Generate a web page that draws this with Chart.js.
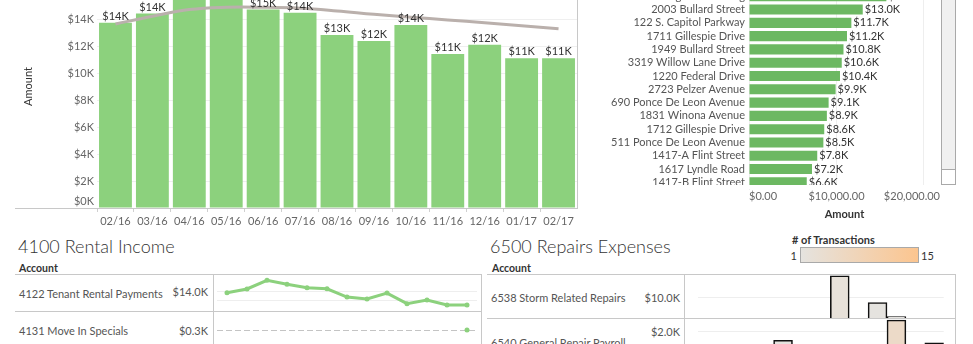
<!DOCTYPE html>
<html><head><meta charset="utf-8">
<script src="https://cdn.jsdelivr.net/npm/chart.js@4.4.1/dist/chart.umd.min.js"></script>
<style>
html,body{margin:0;padding:0;background:#fff;}
body{position:relative;width:973px;height:344px;overflow:hidden;font-family:Lato,'Noto Sans',sans-serif;}
canvas{position:absolute;display:block;}
.t{position:absolute;white-space:nowrap;font-size:11px;line-height:13px;color:#555;}
.hl{position:absolute;height:1px;background:#c8c8c8;}
.vl{position:absolute;width:1px;background:#c8c8c8;}
.ttl{position:absolute;white-space:nowrap;font-size:18px;line-height:20px;color:#333;font-weight:300;}
.hdr{position:absolute;white-space:nowrap;font-size:10.5px;line-height:12px;font-weight:bold;color:#333;}
</style></head><body>

<!-- top-left frame bits -->
<div class="vl" style="left:577px;top:0;height:209px"></div>
<div class="hl" style="left:15px;top:208px;width:82px"></div>
<canvas id="cA" width="577" height="265" style="left:0;top:-35px"></canvas>

<canvas id="cB" width="350" height="243" style="left:590px;top:-17px"></canvas>
<div style="position:absolute;left:590px;top:184.5px;width:351px;height:4.5px;background:#fff"></div>
<div style="position:absolute;left:941px;top:-2px;width:13px;height:185px;border:1px solid #a9a9a9;background:#f0f0f0"></div>
<div style="position:absolute;left:942px;top:169px;width:13px;height:14px;border-top:1px solid #a9a9a9;background:#fff"></div>

<!-- bottom-left table -->
<div class="ttl" style="left:18px;top:236px">4100 Rental Income</div>
<div class="hdr" style="left:19px;top:262px">Account</div>
<div class="hl" style="left:15px;top:274px;width:467px"></div>
<div class="hl" style="left:15px;top:311px;width:467px"></div>
<div class="vl" style="left:213px;top:274px;height:70px"></div>
<div class="vl" style="left:481px;top:274px;height:70px"></div>
<div class="t" style="left:19px;top:286.5px">4122 Tenant Rental Payments</div>
<div class="t" style="right:765px;top:284.5px">$14.0K</div>
<div class="t" style="left:19px;top:323.5px">4131 Move In Specials</div>
<div class="t" style="right:765px;top:323.5px">$0.3K</div>
<canvas id="cC" width="268" height="37" style="left:213px;top:274px"></canvas>
<canvas id="cD" width="268" height="38" style="left:213px;top:311px"></canvas>

<!-- bottom-right table -->
<div class="ttl" style="left:490px;top:236px">6500 Repairs Expenses</div>
<div class="hdr" style="left:492px;top:262px">Account</div>
<div class="hdr" style="left:792px;top:234px;font-size:11px"># of Transactions</div>
<div style="position:absolute;left:800px;top:247px;width:117px;height:14px;border:1px solid #a9a9a9;background:linear-gradient(to right,#e5e3df,#fcc58f)"></div>
<div class="t" style="right:176px;top:248.5px;color:#333">1</div>
<div class="t" style="left:921px;top:248.5px;color:#333">15</div>
<div class="hl" style="left:487px;top:274px;width:469px"></div>
<div class="hl" style="left:487px;top:318px;width:469px"></div>
<div class="vl" style="left:684px;top:274px;height:70px"></div>
<div class="vl" style="left:955px;top:274px;height:70px"></div>
<div class="t" style="left:491px;top:290.5px">6538 Storm Related Repairs</div>
<div class="t" style="right:293px;top:290.5px">$10.0K</div>
<div class="t" style="right:293px;top:324.5px">$2.0K</div>
<div class="t" style="left:491px;top:335.5px">6540 General Repair Payroll</div>
<canvas id="cE" width="271" height="44" style="left:684px;top:274px"></canvas>
<canvas id="cF" width="271" height="44" style="left:684px;top:318px"></canvas>

<script>
// ---------- data ----------
const months = ['02/16','03/16','04/16','05/16','06/16','07/16','08/16','09/16','10/16','11/16','12/16','01/17','02/17'];
const monthlyAmount = [13730,14400,16350,15500,14700,14470,12820,12370,13550,11400,12100,11100,11100];
const trendAmount = [13630,14200,14700,14870,14870,14800,14600,14350,14130,13930,13730,13500,13280];
const incomeTicks = [0,2000,4000,6000,8000,10000,12000,14000,16000,18000];

const properties = ['1300 Magnolia Landing','2003 Bullard Street','122 S. Capitol Parkway','1711 Gillespie Drive','1949 Bullard Street','3319 Willow Lane Drive','1220 Federal Drive','2723 Pelzer Avenue','690 Ponce De Leon Avenue','1831 Winona Avenue','1712 Gillespie Drive','511 Ponce De Leon Avenue','1417-A Flint Street','1617 Lyndle Road','1417-B Flint Street'];
const propertyAmount = [15700,13000,11700,11200,10800,10600,10400,9900,9100,8900,8600,8500,7800,7200,6600];
const amountTicks = [0,10000,20000];

const tenantRentalPayments = [13730,14520,16380,15530,14810,14570,12790,12380,13630,11370,12160,11100,11100];
const moveInSpecials = [null,null,null,null,null,null,null,null,null,null,null,null,300];

const stormRepairs = [null,null,null,null,null,null,null,20400,null,7500,700,null,null];
const stormTransactions = [0,0,0,0,0,0,0,2,0,1,1,0,0];
const repairPayroll = [null,null,null,null,1400,null,null,null,null,null,2710,null,1230];
const payrollTransactions = [0,0,0,0,1,0,0,0,0,0,5,0,1];

// ---------- helpers ----------
const FAM = "Lato, 'Noto Sans', sans-serif";
Chart.defaults.font.family = FAM;
Chart.defaults.font.size = 11;
Chart.defaults.animation = false;
Chart.defaults.responsive = false;
Chart.defaults.devicePixelRatio = 1;
Chart.defaults.plugins.legend.display = false;
Chart.defaults.plugins.tooltip.enabled = false;

function txColor(n){
  const a=[229,227,223], b=[252,197,143];
  const t=Math.max(0,Math.min(1,(n-1)/14));
  return 'rgb('+a.map((c,i)=>Math.round(c+(b[i]-c)*t)).join(',')+')';
}
const kfmt = v => '$'+Math.round(v/1000)+'K';
const k1fmt = v => '$'+(v/1000).toFixed(1)+'K';
const money = v => '$'+v.toLocaleString('en-US',{minimumFractionDigits:2,maximumFractionDigits:2});

// ---------- Chart A: monthly amount ----------
const pluginA = {
  id:'pA',
  afterDatasetsDraw(chart){
    const ctx=chart.ctx, ca=chart.chartArea, ys=chart.scales.y;
    ctx.save();
    ctx.font='11px '+FAM;
    ctx.fillStyle='#666'; ctx.textAlign='right'; ctx.textBaseline='middle';
    incomeTicks.forEach(v=>{
      let y=ys.getPixelForValue(v);
      y=Math.min(y, ca.bottom-6.6);
      ctx.fillText(kfmt(v), ca.left-3, y);
    });
    ctx.fillStyle='#333'; ctx.textAlign='center'; ctx.textBaseline='alphabetic';
    const meta=chart.getDatasetMeta(1);
    meta.data.forEach((el,i)=>{ ctx.fillText(kfmt(monthlyAmount[i]), el.x, el.y-3); });
    ctx.restore();
  }
};
new Chart(document.getElementById('cA'),{
  data:{labels:months,datasets:[
    {type:'line',data:trendAmount,borderColor:'#bab0ac',borderWidth:3,pointRadius:0,tension:0.4,order:0},
    {type:'bar',data:monthlyAmount,backgroundColor:'#8cd17d',barPercentage:0.89,categoryPercentage:1,order:1}
  ]},
  options:{
    layout:{padding:0},
    scales:{
      x:{grid:{drawOnChartArea:false,drawTicks:true,tickLength:4,color:'#d0d0d0',offset:true},
         border:{color:'#c8c8c8'},
         ticks:{color:'#666',padding:3,maxRotation:0,autoSkip:false},
         afterFit(s){s.height=22;}},
      y:{min:0,max:18000,ticks:{display:false,stepSize:2000},
         grid:{color:'#efefef',drawTicks:false},border:{display:false},
         title:{display:true,text:'Amount',color:'#333',font:{size:11},padding:{top:21.4,bottom:0}},
         afterFit(s){s.width=97;}}
    }
  },
  plugins:[pluginA]
});

// ---------- Chart B: amount by property ----------
const pluginB = {
  id:'pB',
  afterDatasetsDraw(chart){
    const ctx=chart.ctx, ca=chart.chartArea, xs=chart.scales.x;
    ctx.save();
    ctx.font='11px '+FAM;
    ctx.fillStyle='#333'; ctx.textAlign='left'; ctx.textBaseline='middle';
    chart.getDatasetMeta(0).data.forEach((el,i)=>{ ctx.fillText(k1fmt(propertyAmount[i]), el.x+2, el.y); });
    ctx.fillStyle='#666';
    amountTicks.forEach(v=>{
      const s=money(v), w=ctx.measureText(s).width;
      let x=xs.getPixelForValue(v)-w/2;
      x=Math.max(ca.left, Math.min(ca.right-w, x));
      ctx.fillText(s, x, ca.bottom+7.4);
    });
    ctx.restore();
  }
};
const cbEl = document.getElementById('cB');
function makeB(){
  return new Chart(cbEl,{
    type:'bar',
    data:{labels:properties,datasets:[{data:propertyAmount,backgroundColor:'#6cb862',barPercentage:0.76,categoryPercentage:1}]},
    options:{
      indexAxis:'y',
      layout:{padding:0},
      scales:{
        x:{min:0,max:21830,ticks:{display:false},afterBuildTicks(s){s.ticks=amountTicks.map(v=>({value:v}));},
           grid:{color:'#eeeeee',drawTicks:false},border:{display:false},
           title:{display:true,text:'Amount',color:'#333',font:{size:11,weight:'bold'},padding:{top:0,bottom:5}},
           afterFit(s){s.height=37;}},
        y:{ticks:{color:'#555',padding:4,autoSkip:false},grid:{display:false,drawTicks:false},
           border:{color:'#eeeeee'},afterFit(s){s.width=159;}}
      }
    },
    plugins:[pluginB]
  });
}
let chartB = makeB();
{
  const ca = chartB.chartArea;
  const extra = cbEl.height - (ca.bottom - ca.top);
  chartB.destroy();
  cbEl.width = 350; cbEl.height = Math.round(extra + 199.2);
  cbEl.style.width = ''; cbEl.style.height = '';
  chartB = makeB();
  cbEl.style.top = (-10.6 - chartB.chartArea.top) + 'px';
}

// ---------- Chart C: 4122 sparkline ----------
new Chart(document.getElementById('cC'),{
  type:'line',
  data:{labels:months,datasets:[{data:tenantRentalPayments,borderColor:'#8cd17d',borderWidth:3,pointRadius:2.5,pointBackgroundColor:'#8cd17d',pointBorderWidth:0,tension:0,clip:false}]},
  options:{
    layout:{padding:{left:3.6,right:2.2,top:0,bottom:0}},
    scales:{
      x:{display:false,offset:true},
      y:{min:10644,max:16884,ticks:{display:false},afterBuildTicks(s){s.ticks=[{value:12000},{value:14000}];},
         grid:{color:'#eeeeee',drawTicks:false},border:{display:false}}
    }
  }
});

// ---------- Chart D: 4131 ----------
new Chart(document.getElementById('cD'),{
  type:'line',
  data:{labels:months,datasets:[{data:moveInSpecials,showLine:false,pointRadius:2.5,pointBackgroundColor:'#8cd17d',pointBorderWidth:0,clip:false}]},
  options:{
    layout:{padding:{left:3.6,right:2.2,top:0,bottom:0}},
    scales:{
      x:{display:false,offset:true},
      y:{min:0,max:600,ticks:{display:false},afterBuildTicks(s){s.ticks=[{value:300}];},
         grid:{color:'#c4c4c4',drawTicks:false},border:{display:false,dash:[6,3]}}
    }
  }
});

// ---------- Charts E/F: repairs ----------
function repairChart(id, values, tx, max, grid){
  return new Chart(document.getElementById(id),{
    type:'bar',
    data:{labels:months,datasets:[{data:values,backgroundColor:tx.map(txColor),borderColor:'#111',borderWidth:1.6,borderSkipped:'bottom',barPercentage:1,categoryPercentage:1}]},
    options:{
      layout:{padding:{left:14,right:11.3,top:0,bottom:0}},
      scales:{
        x:{display:false,offset:true},
        y:{min:0,max:max,ticks:{display:false},afterBuildTicks(s){s.ticks=[{value:grid}];},
           grid:{color:'#eeeeee',drawTicks:false},border:{display:false}}
      }
    }
  });
}
repairChart('cE', stormRepairs, stormTransactions, 21260, 10000);
repairChart('cF', repairPayroll, payrollTransactions, 2840, 2000);
</script>
</body></html>
